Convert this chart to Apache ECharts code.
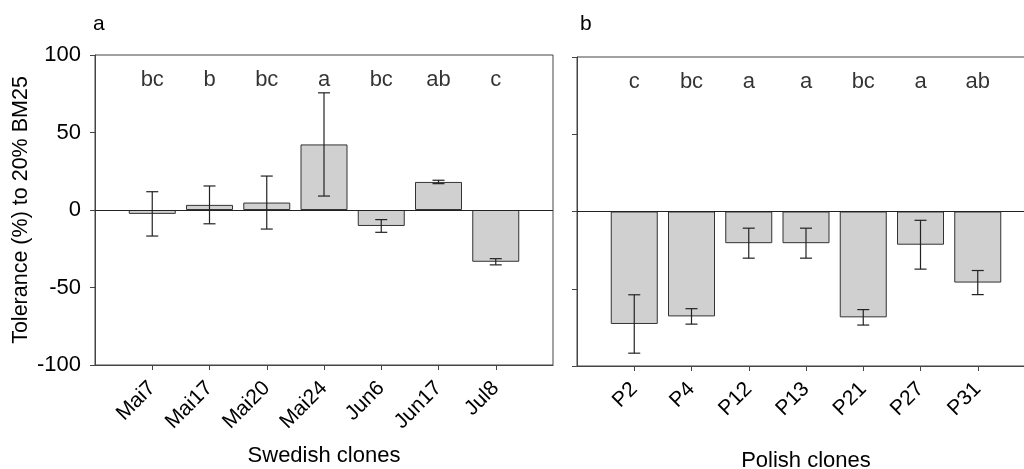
<!DOCTYPE html>
<html>
<head>
<meta charset="utf-8">
<script src="https://cdn.jsdelivr.net/npm/echarts@6/dist/echarts.min.js"></script>
<style>
html,body{margin:0;padding:0;background:#fff;}
#chart{width:1024px;height:469px;}
</style>
</head>
<body>
<div id="chart"></div>
<script>
// ---- data ----
const sweCats = ['Mai7', 'Mai17', 'Mai20', 'Mai24', 'Jun6', 'Jun17', 'Jul8'];
const sweMeans = [-2.5, 3.3, 4.8, 42.3, -10.3, 18.1, -33.4];
const sweErr = [14.3, 12.2, 17.1, 33.3, 4.1, 1.1, 2.0];
const sweLetters = ['bc', 'b', 'bc', 'a', 'bc', 'ab', 'c'];

const polCats = ['P2', 'P4', 'P12', 'P13', 'P21', 'P27', 'P31'];
const polMeans = [-72.8, -67.9, -20.5, -20.5, -68.5, -21.5, -46.0];
const polErr = [18.9, 5.0, 9.7, 9.7, 5.0, 15.8, 7.8];
const polLetters = ['c', 'bc', 'a', 'a', 'bc', 'a', 'ab'];

const letterLevel = 84;

// ---- chart ----
const FONT = 'Liberation Sans, Arial, sans-serif';
const chart = echarts.init(document.getElementById('chart'), null, {renderer: 'canvas'});

function padCats(c) { return [''].concat(c).concat(['']); }
function padVals(v) { return ['-'].concat(v).concat(['-']); }

function xAxisDef(cats, gridIndex, name, nameGap) {
  return {
    type: 'category', gridIndex: gridIndex, data: padCats(cats), boundaryGap: false,
    name: name, nameLocation: 'middle', nameGap: nameGap,
    nameTextStyle: {fontFamily: FONT, fontSize: 22, color: '#000'},
    axisLine: {show: true, onZero: false, lineStyle: {color: '#444', width: 1}},
    axisTick: {show: true, inside: false, length: 5, lineStyle: {color: '#444'},
      interval: function (i) { return i > 0 && i < cats.length + 1; }},
    axisLabel: {show: true, rotate: 45, margin: 20, fontFamily: FONT, fontSize: 21, color: '#000',
      interval: 0},
    splitLine: {show: false}
  };
}

function yAxisDef(gridIndex, showLabels, name) {
  return {
    type: 'value', gridIndex: gridIndex, min: -100, max: 100, interval: 50,
    name: name, nameLocation: 'middle', nameGap: 63,
    nameTextStyle: {fontFamily: FONT, fontSize: 21.5, color: '#000'},
    axisLine: {show: true, lineStyle: {color: '#444', width: 1}},
    axisTick: {show: true, inside: false, length: 5, lineStyle: {color: '#444'}},
    axisLabel: {show: showLabels, margin: 14, fontFamily: FONT, fontSize: 22, color: '#000'},
    splitLine: {show: false}
  };
}

function errorSeries(means, errs, idx) {
  return {
    type: 'custom', xAxisIndex: idx, yAxisIndex: idx, z: 5,
    data: means.map(function (m, i) { return [i + 1, m - errs[i], m + errs[i]]; }),
    renderItem: function (params, api) {
      const x = api.value(0);
      const lo = api.coord([x, api.value(1)]);
      const hi = api.coord([x, api.value(2)]);
      const cap = 6;
      const st = {stroke: '#222', lineWidth: 1.2};
      return {
        type: 'group',
        children: [
          {type: 'line', shape: {x1: lo[0], y1: lo[1], x2: hi[0], y2: hi[1]}, style: st},
          {type: 'line', shape: {x1: lo[0] - cap, y1: lo[1], x2: lo[0] + cap, y2: lo[1]}, style: st},
          {type: 'line', shape: {x1: hi[0] - cap, y1: hi[1], x2: hi[0] + cap, y2: hi[1]}, style: st}
        ]
      };
    }
  };
}

function barSeries(means, idx) {
  return {
    type: 'bar', xAxisIndex: idx, yAxisIndex: idx, data: padVals(means), barWidth: 47,
    itemStyle: {color: '#d0d0d0', borderColor: '#333', borderWidth: 1},
    silent: true,
    markLine: {
      silent: true, symbol: 'none', label: {show: false},
      lineStyle: {color: '#222', type: 'solid', width: 1},
      data: [{yAxis: 0}]
    }
  };
}

function letterSeries(letters, idx) {
  return {
    type: 'scatter', xAxisIndex: idx, yAxisIndex: idx, symbolSize: 0,
    data: letters.map(function (l, i) { return [i + 1, letterLevel]; }),
    label: {show: true, position: 'inside', fontFamily: FONT, fontSize: 22, color: '#000',
      formatter: function (p) { return letters[p.dataIndex]; }}
  };
}

const option = {
  backgroundColor: '#fff',
  animation: false,
  textStyle: {fontFamily: FONT},
  grid: [
    {left: 95, top: 55, width: 458, height: 310, show: true, borderColor: '#444', borderWidth: 1,
      backgroundColor: 'transparent', containLabel: false, outerBoundsMode: 'none'},
    {left: 577, top: 57, width: 458, height: 309, show: true, borderColor: '#444', borderWidth: 1,
      backgroundColor: 'transparent', containLabel: false, outerBoundsMode: 'none'}
  ],
  xAxis: [
    xAxisDef(sweCats, 0, 'Swedish clones', 80),
    xAxisDef(polCats, 1, 'Polish clones', 84)
  ],
  yAxis: [
    yAxisDef(0, true, 'Tolerance (%) to 20% BM25'),
    yAxisDef(1, false, '')
  ],
  graphic: [
    {type: 'text', left: 93, top: 14, style: {text: 'a', fontFamily: FONT, fontSize: 21, fill: '#000'}},
    {type: 'text', left: 580, top: 14, style: {text: 'b', fontFamily: FONT, fontSize: 21, fill: '#000'}}
  ],
  series: [
    barSeries(sweMeans, 0),
    errorSeries(sweMeans, sweErr, 0),
    letterSeries(sweLetters, 0),
    barSeries(polMeans, 1),
    errorSeries(polMeans, polErr, 1),
    letterSeries(polLetters, 1)
  ]
};
chart.setOption(option);
</script>
</body>
</html>
